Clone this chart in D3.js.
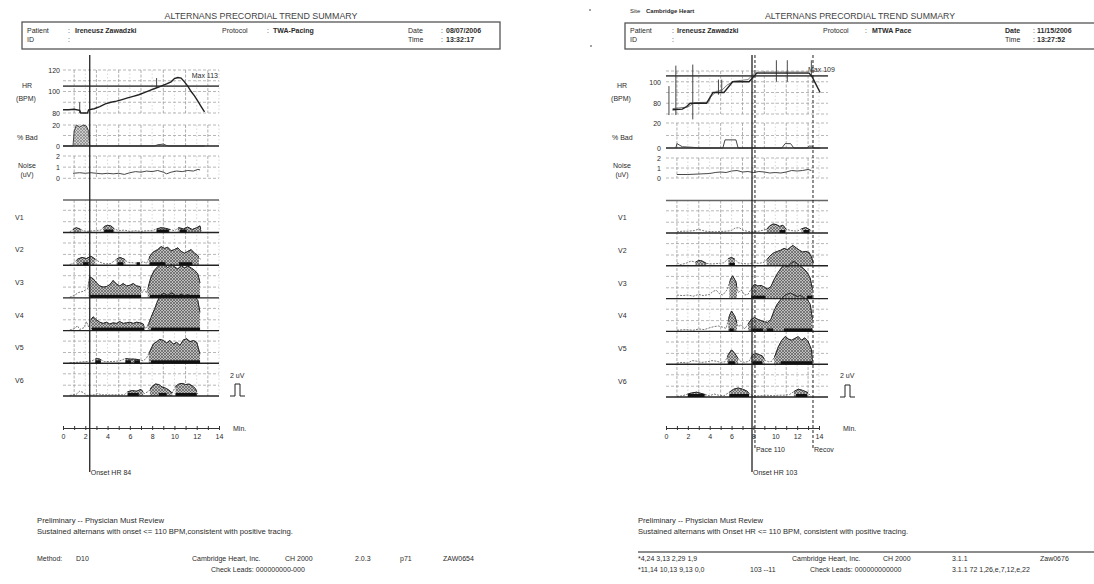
<!DOCTYPE html>
<html><head><meta charset="utf-8">
<script src="https://cdn.jsdelivr.net/npm/d3@7"></script>
<style>
body{margin:0;background:#fff;}
svg{display:block;font-family:"Liberation Sans",Arial,sans-serif;}
</style></head><body>
<svg id="c" width="1094" height="584"></svg>
<script>
// ---------------- DATA ----------------
const leadNames = ['V1','V2','V3','V4','V5','V6'];
const minuteTicks = [0,1,2,3,4,5,6,7,8,9,10,11,12,13,14];
const minuteLabels = ['0','','2','','4','','6','','8','','10','','12','','14'];

// Left report (TWA-Pacing)
const leftHR = [[0,83],[0.5,83],[1.0,83.5],[1.5,82.5],[1.6,80],[2.2,80],[2.3,83],[2.8,84],[3.3,86],[3.8,88.5],[4.3,90],[4.8,91],[5.3,92.5],[5.8,94],[6.3,95.5],[6.8,97],[7.3,99],[7.8,101],[8.3,103],[8.8,105],[9.3,107],[9.7,109],[10.0,112],[10.3,113],[10.6,112.5],[10.9,109],[11.2,105],[11.5,100],[11.8,96],[12.1,91],[12.4,86],[12.7,81]];
const leftHRSpikes = [[1.5,80,90],[8.4,104,112.5]];
const leftBad = [[0,0],[0.9,0],[1.0,14],[1.2,20],[1.5,18],[1.8,20],[2.1,19],[2.3,14],[2.4,0],[8.2,0],[8.5,1.2],[9.0,1.8],[9.3,0.5],[9.5,0],[12.7,0]];
const leftBadFill = [[1.0,2.4]];
const leftNoise = [[0.9,0.45],[1.5,0.5],[2,0.45],[2.5,0.5],[3,0.45],[3.5,0.4],[4,0.45],[4.5,0.4],[5,0.45],[5.5,0.35],[6,0.5],[6.5,0.6],[7,0.55],[7.5,0.65],[8,0.6],[8.5,0.7],[9,0.55],[9.3,0.4],[9.7,0.55],[10.2,0.65],[10.7,0.6],[11.2,0.7],[11.7,0.65],[12.1,0.8],[12.3,0.75]];

const leftV1 = [[0.6,0.1],[0.9,0.5],[1.2,0.8],[1.5,0.6],[1.8,0.3],[2.2,0.2],[2.8,0.3],[3.4,0.4],[3.7,1.0],[4.0,1.2],[4.3,1.1],[4.6,0.6],[5.0,0.3],[5.5,0.4],[6.0,0.2],[6.5,0.3],[7.0,0.2],[7.5,0.3],[8.0,0.3],[8.4,0.6],[8.8,0.8],[9.2,0.7],[9.6,0.5],[10.0,0.3],[10.4,0.8],[10.8,0.6],[11.2,0.9],[11.6,0.5],[12.0,0.8],[12.3,1.1],[12.4,0.2]];
const leftV1Fill = [[0.9,1.6],[3.6,4.6],[8.4,9.6],[10.3,12.4]];
const leftV1Bars = [[3.7,4.5],[8.4,9.5],[10.5,11.1]];
const leftV2 = [[0.6,0.1],[1.0,0.4],[1.3,1.0],[1.7,1.3],[2.1,1.1],[2.5,1.5],[2.9,1.0],[3.3,0.5],[3.8,0.2],[4.3,0.3],[4.8,1.0],[5.1,1.3],[5.5,1.0],[5.8,0.5],[6.3,0.4],[6.8,0.3],[7.2,0.6],[7.5,0.3],[7.8,1.5],[8.1,2.2],[8.5,2.6],[8.8,3.1],[9.1,2.8],[9.4,3.0],[9.7,2.4],[10.0,2.6],[10.3,2.9],[10.6,2.3],[10.9,2.0],[11.2,2.3],[11.5,2.6],[11.8,2.0],[12.1,1.6],[12.4,0.8]];
const leftV2Fill = [[1.2,2.9],[4.8,5.6],[7.7,12.2]];
const leftV2Bars = [[1.8,2.3],[4.9,5.4],[6.6,6.9],[7.8,9.2],[10.4,11.6]];
const leftV3 = [[0.6,0.1],[1.0,0.4],[1.4,0.9],[1.8,1.1],[2.2,1.5],[2.4,3.5],[2.7,3.2],[3.0,2.5],[3.3,2.0],[3.6,1.8],[3.9,1.9],[4.2,2.2],[4.5,2.9],[4.8,2.3],[5.1,2.0],[5.4,2.4],[5.7,2.0],[6.0,2.1],[6.3,2.4],[6.6,2.0],[6.9,1.9],[7.1,0.9],[7.3,1.4],[7.5,0.8],[7.7,2.2],[7.9,3.5],[8.2,4.6],[8.5,5.2],[8.8,6.0],[9.1,5.6],[9.4,5.0],[9.7,5.6],[10.0,5.2],[10.3,4.8],[10.6,5.4],[10.9,5.0],[11.2,5.3],[11.5,5.0],[11.8,4.6],[12.1,4.0],[12.3,2.5]];
const leftV3Fill = [[2.3,7.0],[7.6,12.35]];
const leftV3Bars = [[2.4,7.0],[7.8,12.3]];
const leftV4 = [[0.6,0.1],[1.0,0.3],[1.3,0.8],[1.5,0.2],[1.9,0.5],[2.1,1.5],[2.3,0.6],[2.5,1.8],[2.7,2.3],[3.0,1.8],[3.3,1.4],[3.6,1.2],[3.9,1.4],[4.2,1.1],[4.5,1.3],[4.8,1.2],[5.1,1.5],[5.4,1.2],[5.7,1.3],[6.0,1.4],[6.3,1.2],[6.6,1.4],[6.9,1.3],[7.2,1.1],[7.4,0.3],[7.7,1.2],[7.9,2.2],[8.2,3.5],[8.5,5.0],[8.8,6.0],[9.1,6.2],[9.4,5.8],[9.7,6.3],[10.0,6.0],[10.3,5.6],[10.6,6.1],[10.9,5.7],[11.2,6.0],[11.5,5.5],[11.8,5.8],[12.1,5.0],[12.3,3.0]];
const leftV4Fill = [[2.5,7.3],[7.6,12.35]];
const leftV4Bars = [[2.6,7.3],[7.9,12.3]];
const leftV5 = [[0.6,0.1],[1.5,0.2],[2.2,0.3],[2.6,0.4],[3.0,0.8],[3.3,0.7],[3.7,0.3],[4.5,0.3],[5.1,0.4],[5.6,0.8],[6.0,0.7],[6.4,0.7],[6.8,0.6],[7.2,0.4],[7.5,0.9],[7.8,2.0],[8.1,3.2],[8.4,3.6],[8.7,4.0],[9.0,3.8],[9.3,3.4],[9.6,3.8],[9.9,3.2],[10.2,3.5],[10.5,3.0],[10.8,3.9],[11.1,4.1],[11.4,3.6],[11.7,3.8],[12.0,3.5],[12.3,1.5]];
const leftV5Fill = [[2.9,3.4],[5.6,6.9],[7.7,12.35]];
const leftV5Bars = [[2.9,3.4],[5.6,6.1],[6.4,6.9],[7.9,12.3]];
const leftV6 = [[0.6,0.1],[1.2,0.3],[1.5,0.8],[1.8,0.6],[2.1,0.1],[2.8,0.2],[3.1,0.4],[3.5,0.2],[4.5,0.2],[5.5,0.2],[5.8,0.7],[6.2,0.9],[6.6,0.8],[7.0,1.1],[7.3,0.4],[7.7,0.8],[8.0,1.6],[8.3,2.0],[8.6,1.9],[8.9,1.5],[9.2,1.3],[9.5,1.0],[9.8,0.5],[10.1,1.6],[10.4,2.0],[10.7,2.1],[11.0,1.9],[11.3,2.0],[11.6,1.7],[11.9,1.2],[12.1,0.3]];
const leftV6Fill = [[5.8,7.2],[7.8,9.8],[10.1,12.0]];
const leftV6Bars = [[5.8,6.8],[8.6,9.3],[10.1,12.0]];

// Right report (MTWA Pace)
const rightHR = [[0.6,74],[1.5,74.5],[1.9,77],[2.2,80],[3.7,80],[4.3,90],[5.3,90],[6.1,100],[7.6,100],[8.3,108],[13.1,108],[13.4,104],[13.7,98],[14.1,90]];
const rightHR2 = [[0.6,75],[2.0,76.5],[2.6,80.5],[3.9,81],[4.1,86],[4.6,91],[5.1,92],[5.6,97],[6.2,100.5],[7.5,102],[8.0,107],[8.5,109],[13.0,109]];
const rightHRSpikes = [[0.27,69,96],[0.9,69,115],[2.45,65,116],[4.8,88,102],[5.1,90,102],[10.1,100,120],[11.1,100,120],[13.3,106,120]];
const rightBad = [[0.9,0],[1.0,3.5],[1.2,2.5],[1.5,1],[2.5,0.5],[3,0],[5.2,0],[5.4,6.5],[6.4,6.5],[6.6,0],[10.6,0],[10.9,3.5],[11.4,3.5],[11.7,0],[12.9,0],[13.1,1.5],[13.4,1.5],[13.5,0],[14.1,0]];
const rightBadFill = [];
const rightNoise = [[1.0,0.35],[2,0.35],[3,0.4],[4,0.45],[4.5,0.55],[5,0.6],[5.5,0.55],[6,0.7],[6.5,0.75],[7,0.6],[7.5,0.65],[8,0.55],[8.5,0.65],[9,0.6],[9.5,0.5],[10,0.55],[10.5,0.5],[11,0.6],[11.5,0.75],[12,0.7],[12.5,0.75],[13,0.85],[13.3,0.75]];

const rightV1 = [[1.0,0.2],[1.5,0.3],[2.0,0.3],[2.6,0.4],[2.9,0.6],[3.2,0.5],[3.6,0.3],[4.5,0.2],[5.5,0.3],[6.0,0.4],[6.3,0.8],[6.7,0.9],[7.0,0.5],[7.4,0.3],[7.8,0.2],[8.5,0.3],[9.2,0.6],[9.5,1.2],[9.8,1.5],[10.1,1.4],[10.4,1.1],[10.7,1.3],[11.0,0.6],[11.5,0.4],[12.0,0.3],[12.4,0.7],[12.8,0.9],[13.2,0.5],[13.4,0.2]];
const rightV1Fill = [[9.2,11.0],[12.4,13.2]];
const rightV1Bars = [[10.4,10.9],[12.6,13.1]];
const rightV2 = [[1.0,0.5],[1.3,0.2],[1.8,0.4],[2.3,0.8],[2.7,0.6],[3.0,0.9],[3.3,0.8],[3.7,0.4],[4.2,0.3],[4.8,0.4],[5.3,0.5],[5.7,1.2],[6.0,1.4],[6.3,1.1],[6.6,0.5],[7.0,0.4],[7.5,0.3],[8.0,0.5],[8.5,0.4],[9.0,0.6],[9.3,1.2],[9.6,1.8],[9.9,2.2],[10.2,2.4],[10.5,2.6],[10.8,2.9],[11.1,2.7],[11.4,3.1],[11.6,3.4],[11.9,3.0],[12.2,2.6],[12.5,2.3],[12.8,2.4],[13.1,2.2],[13.3,1.5],[13.5,0.4]];
const rightV2Fill = [[2.7,3.7],[5.7,6.3],[9.2,13.5]];
const rightV2Bars = [[5.8,6.3]];
const rightV3 = [[1.0,0.6],[1.5,0.5],[2.0,0.6],[2.5,0.4],[3.0,0.7],[3.4,0.5],[4.0,0.7],[4.3,1.2],[4.6,1.4],[4.9,0.8],[5.2,0.6],[5.6,1.5],[5.9,3.2],[6.1,3.8],[6.4,2.8],[6.6,1.0],[6.9,1.4],[7.2,0.6],[7.5,0.7],[7.8,1.6],[8.1,2.4],[8.4,2.1],[8.7,2.2],[9.0,1.9],[9.3,1.6],[9.6,2.0],[9.9,3.2],[10.2,4.2],[10.5,5.0],[10.8,5.6],[11.1,5.3],[11.4,5.8],[11.7,6.2],[12.0,5.8],[12.3,5.4],[12.6,5.0],[12.9,4.4],[13.2,3.4],[13.4,1.5]];
const rightV3Fill = [[5.8,6.5],[7.8,13.45]];
const rightV3Bars = [[7.8,9.1],[12.9,13.4]];
const rightV4 = [[1.0,0.2],[1.8,0.3],[2.5,0.2],[3.0,0.4],[3.5,0.3],[4.0,0.6],[4.4,0.8],[4.8,0.9],[5.2,0.7],[5.5,0.5],[5.8,2.6],[6.0,3.4],[6.3,2.5],[6.6,0.8],[6.9,1.1],[7.2,0.4],[7.5,1.2],[7.8,2.0],[8.1,2.3],[8.4,2.0],[8.7,1.8],[9.0,1.6],[9.3,1.5],[9.6,2.0],[9.9,3.5],[10.2,4.6],[10.5,5.3],[10.8,5.9],[11.1,6.2],[11.4,6.4],[11.7,6.1],[12.0,5.8],[12.3,6.0],[12.6,5.6],[12.9,5.4],[13.2,4.5],[13.4,2.0]];
const rightV4Fill = [[5.7,6.5],[7.5,13.45]];
const rightV4Bars = [[5.8,6.2],[7.8,8.9],[9.2,9.8],[10.8,13.4]];
const rightV5 = [[1.0,0.2],[1.5,0.3],[2.0,0.2],[2.4,0.6],[2.8,0.5],[3.2,0.3],[3.8,0.4],[4.2,0.6],[4.6,0.5],[5.0,0.3],[5.4,0.4],[5.7,1.6],[6.0,2.4],[6.3,1.8],[6.5,1.2],[6.8,0.5],[7.2,0.3],[7.6,0.5],[7.9,1.5],[8.2,1.8],[8.5,1.6],[8.8,1.4],[9.1,0.6],[9.4,0.4],[9.7,0.5],[10.0,1.5],[10.3,3.0],[10.6,4.0],[10.9,4.6],[11.2,4.2],[11.5,4.0],[11.8,4.3],[12.1,4.6],[12.4,4.0],[12.7,4.4],[13.0,3.8],[13.3,2.5],[13.4,0.5]];
const rightV5Fill = [[5.6,6.6],[7.8,9.0],[9.9,13.45]];
const rightV5Bars = [[5.7,6.3],[7.9,8.8],[10.5,13.4]];
const rightV6 = [[1.0,0.1],[1.5,0.2],[2.0,0.5],[2.4,0.7],[2.8,0.8],[3.2,0.6],[3.6,0.4],[4.0,0.2],[4.4,0.5],[4.8,0.3],[5.3,0.2],[5.8,0.8],[6.2,1.3],[6.6,1.5],[7.0,1.3],[7.4,1.0],[7.7,0.4],[8.0,0.2],[8.6,0.2],[9.2,0.3],[9.8,0.2],[10.3,0.3],[10.8,0.3],[11.3,0.4],[11.7,0.9],[12.1,1.3],[12.5,1.1],[12.9,0.8],[13.2,0.3]];
const rightV6Fill = [[2.0,3.6],[5.8,7.6],[11.7,13.0]];
const rightV6Bars = [[2.0,3.5],[5.8,7.6],[11.9,12.9]];

// ---------------- DRAWING ----------------
const svg = d3.select('#c');
const defs = svg.append('defs');
const pat = defs.append('pattern').attr('id','hatch').attr('patternUnits','userSpaceOnUse').attr('width',3).attr('height',3);
pat.append('rect').attr('width',3).attr('height',3).attr('fill','#bebebe');
pat.append('path').attr('d','M0,0L3,3M3,0L0,3').attr('stroke','#4a4a4a').attr('stroke-width',0.6);

const INK = '#2b2b2b';
function txt(x,y,s,o={}){
  const t = svg.append('text').attr('x',x).attr('y',y).text(s)
    .attr('font-size',o.size||7).attr('fill',o.fill||INK);
  if(o.bold) t.attr('font-weight','bold');
  if(o.anchor) t.attr('text-anchor',o.anchor);
  if(o.len) t.attr('textLength',o.len).attr('lengthAdjust','spacingAndGlyphs');
  return t;
}
let clipId = 0;
const fmtInt = d3.format('d');

function drawChart(c){
  const g = svg.append('g');
  const x = d3.scaleLinear().domain([0,14]).range(c.xr);
  const xL = c.xr[0], xR = c.xEnd;
  const tMax = x.invert(xR);
  const mins = d3.range(1, Math.floor(tMax)+1);
  const yHR = d3.scaleLinear().domain(c.hrDomain).range(c.hrRange);
  const yBad = d3.scaleLinear().domain([0,20]).range(c.badRange);
  const yNoise = d3.scaleLinear().domain([0,2]).range(c.noiseRange);
  const bases = leadNames.map((n,i)=>c.base0 + i*c.step);
  const yLead = i => d3.scaleLinear().domain([0,5.5]).range([bases[i], bases[i]-33]);
  const leadTop = bases[0]-32.5;
  const styleAxis = a=>{a.select('.domain').remove(); a.attr('font-family',null).attr('font-size',7).selectAll('text').attr('fill',INK);};

  function vgrid(y0,y1){
    g.append('g').selectAll('line').data(mins).join('line')
      .attr('x1',d=>x(d)).attr('x2',d=>x(d)).attr('y1',y0).attr('y2',y1)
      .attr('stroke',d=>d%2?'#8c8c8c':'#c8c8c8').attr('stroke-width',0.7)
      .attr('stroke-dasharray',d=>d%2?'3,1.5':'1.5,2');
  }
  function hgrid(ys){
    g.append('g').selectAll('line').data(ys).join('line')
      .attr('x1',xL).attr('x2',xR).attr('y1',d=>d).attr('y2',d=>d)
      .attr('stroke','#9a9a9a').attr('stroke-width',0.7).attr('stroke-dasharray','3,2');
  }
  // grids
  vgrid(yHR(c.hrDomain[1]), yHR(c.hrDomain[0]));
  hgrid(d3.range(c.hrDomain[0], c.hrDomain[1]+1, 10).map(yHR));
  vgrid(yBad(20), yBad(0));
  hgrid([yBad(20), yBad(10)]);
  vgrid(yNoise(2), yNoise(0));
  hgrid([yNoise(2), yNoise(1), yNoise(0)]);
  vgrid(leadTop, bases[5]);
  bases.forEach((b,i)=>hgrid([yLead(i)(1.8), yLead(i)(3.7)]));

  // HR panel
  g.append('line').attr('x1',xL).attr('x2',xR).attr('y1',yHR(c.hrThreshold)).attr('y2',yHR(c.hrThreshold))
    .attr('stroke','#555').attr('stroke-width',1.6);
  const lineHR = d3.line().x(d=>x(d[0])).y(d=>yHR(d[1]));
  g.append('g').selectAll('line').data(c.spikes).join('line')
    .attr('x1',d=>x(d[0])).attr('x2',d=>x(d[0])).attr('y1',d=>yHR(d[1])).attr('y2',d=>yHR(d[2]))
    .attr('stroke','#333').attr('stroke-width',0.9);
  if(c.hr2) g.append('path').datum(c.hr2).attr('d',lineHR).attr('fill','none').attr('stroke','#555').attr('stroke-width',0.8);
  g.append('path').datum(c.hr).attr('d',lineHR).attr('fill','none').attr('stroke','#222').attr('stroke-width',1.4);
  g.append('g').attr('transform',`translate(${c.axX},0)`)
    .call(d3.axisLeft(yHR).tickValues(c.hrTicks).tickFormat(fmtInt).tickSize(0).tickPadding(0)).call(styleAxis);

  // % Bad
  const areaBad = d3.area().x(d=>x(d[0])).y0(yBad(0)).y1(d=>yBad(d[1]));
  if(c.badFill.length){
    const id = 'clip'+(clipId++);
    defs.append('clipPath').attr('id',id).selectAll('rect').data(c.badFill).join('rect')
      .attr('x',d=>x(d[0])).attr('width',d=>x(d[1])-x(d[0])).attr('y',yBad(25)).attr('height',yBad(0)-yBad(25));
    g.append('path').datum(c.bad).attr('d',areaBad).attr('fill','url(#hatch)').attr('opacity',0.75).attr('clip-path',`url(#${id})`);
  }
  g.append('line').attr('x1',xL).attr('x2',xR).attr('y1',yBad(0)).attr('y2',yBad(0)).attr('stroke','#222').attr('stroke-width',1.5);
  g.append('path').datum(c.bad).attr('d',d3.line().x(d=>x(d[0])).y(d=>yBad(d[1]))).attr('fill','none').attr('stroke','#333').attr('stroke-width',0.9);
  g.append('g').attr('transform',`translate(${c.axX},0)`)
    .call(d3.axisLeft(yBad).tickValues([0,20]).tickFormat(fmtInt).tickSize(0).tickPadding(0)).call(styleAxis);

  // Noise
  g.append('path').datum(c.noise).attr('d',d3.line().x(d=>x(d[0])).y(d=>yNoise(d[1]))).attr('fill','none').attr('stroke','#333').attr('stroke-width',0.9);
  g.append('g').attr('transform',`translate(${c.axX},0)`)
    .call(d3.axisLeft(yNoise).tickValues([0,1,2]).tickFormat(fmtInt).tickSize(0).tickPadding(0)).call(styleAxis);

  // Leads
  g.append('line').attr('x1',xL).attr('x2',xR).attr('y1',leadTop).attr('y2',leadTop).attr('stroke','#666').attr('stroke-width',1.3);
  c.leads.forEach((ld,i)=>{
    const y = yLead(i);
    const line = d3.line().x(d=>x(d[0])).y(d=>y(d[1]));
    const area = d3.area().x(d=>x(d[0])).y0(bases[i]).y1(d=>y(d[1]));
    g.append('path').datum(ld.pts).attr('d',line).attr('fill','none').attr('stroke','#555').attr('stroke-width',0.8).attr('stroke-dasharray','2,1.2');
    const id = 'clip'+(clipId++);
    defs.append('clipPath').attr('id',id).selectAll('rect').data(ld.fill).join('rect')
      .attr('x',d=>x(d[0])).attr('width',d=>x(d[1])-x(d[0])).attr('y',bases[i]-60).attr('height',61);
    const cg = g.append('g').attr('clip-path',`url(#${id})`);
    cg.append('path').datum(ld.pts).attr('d',area).attr('fill','url(#hatch)');
    cg.append('path').datum(ld.pts).attr('d',line).attr('fill','none').attr('stroke','#222').attr('stroke-width',1);
  });
  c.leads.forEach((ld,i)=>{
    g.append('line').attr('x1',xL).attr('x2',xR).attr('y1',bases[i]).attr('y2',bases[i]).attr('stroke','#222').attr('stroke-width',1.4);
    g.append('g').selectAll('rect').data(ld.bars).join('rect')
      .attr('x',d=>x(d[0])).attr('width',d=>x(d[1])-x(d[0])).attr('y',bases[i]-3).attr('height',3).attr('fill','#111');
    txt(c.leadLabelX, bases[i]-13, leadNames[i]);
  });

  // Time axis
  g.append('g').attr('transform',`translate(0,${c.axisY})`)
    .call(d3.axisBottom(x).tickValues(minuteTicks).tickFormat((d,i)=>minuteLabels[i]).tickSize(-3).tickSizeOuter(0).tickPadding(6))
    .call(a=>{a.attr('font-family',null).attr('font-size',7); a.selectAll('text').attr('fill',INK);
      a.select('.domain').attr('stroke','#333').attr('stroke-width',1);
      a.selectAll('.tick line').attr('stroke','#333').attr('y2',-2).attr('y1',2);});
  txt(x(14)+c.minDx, c.axisY+3, 'Min.');

  // event lines
  c.events.forEach(e=>{
    g.append('line').attr('x1',x(e.t)).attr('x2',x(e.t)).attr('y1',55).attr('y2',e.y2)
      .attr('stroke','#222').attr('stroke-width',e.dash?1:1.3).attr('stroke-dasharray',e.dash?'3,2':null);
    txt(x(e.t)+1, e.y2+3, e.label);
  });

  // labels
  txt(c.yLabX, 87.5, 'HR', {anchor:'middle'});
  txt(c.yLabX-1, 100.5, '(BPM)', {anchor:'middle'});
  txt(c.yLabX-10, 139.5, '% Bad');
  txt(c.yLabX, 167.5, 'Noise', {anchor:'middle'});
  txt(c.yLabX, 176.5, '(uV)', {anchor:'middle'});
  txt(c.maxX, c.maxY, c.maxLabel, {anchor:c.maxAnchor});

  // 2 uV calibration pulse
  const p0 = c.pulseX, pb = bases[5];
  txt(p0, 378, '2 uV');
  g.append('path').attr('d',`M${p0},${pb}H${p0+5}V${pb-12}H${p0+10}V${pb}H${p0+15}`)
    .attr('fill','none').attr('stroke','#222').attr('stroke-width',1);
}

drawChart({
  xr:[63,219], xEnd:219, axX:60, yLabX:27, leadLabelX:15,
  hrDomain:[80,120], hrRange:[113,70], hrTicks:[80,100,120], hrThreshold:105,
  hr:leftHR, hr2:null, spikes:leftHRSpikes,
  bad:leftBad, badFill:leftBadFill, badRange:[146,125],
  noise:leftNoise, noiseRange:[178.3,156],
  base0:232.5, step:32.7, axisY:428, minDx:14, pulseX:230,
  maxLabel:'Max 113', maxX:218, maxY:77.5, maxAnchor:'end',
  leads:[{pts:leftV1,fill:leftV1Fill,bars:leftV1Bars},{pts:leftV2,fill:leftV2Fill,bars:leftV2Bars},{pts:leftV3,fill:leftV3Fill,bars:leftV3Bars},{pts:leftV4,fill:leftV4Fill,bars:leftV4Bars},{pts:leftV5,fill:leftV5Fill,bars:leftV5Bars},{pts:leftV6,fill:leftV6Fill,bars:leftV6Bars}],
  events:[{t:2.4,y2:472,label:'Onset HR 84'}]
});
drawChart({
  xr:[666,819], xEnd:828, axX:661, yLabX:622, leadLabelX:618,
  hrDomain:[70,110], hrRange:[114,71], hrTicks:[80,100], hrThreshold:105.5,
  hr:rightHR, hr2:rightHR2, spikes:rightHRSpikes,
  bad:rightBad, badFill:rightBadFill, badRange:[148,123],
  noise:rightNoise, noiseRange:[178,158],
  base0:233, step:32.8, axisY:428, minDx:24, pulseX:840,
  maxLabel:'Max 109', maxX:808, maxY:71.5, maxAnchor:'start',
  leads:[{pts:rightV1,fill:rightV1Fill,bars:rightV1Bars},{pts:rightV2,fill:rightV2Fill,bars:rightV2Bars},{pts:rightV3,fill:rightV3Fill,bars:rightV3Bars},{pts:rightV4,fill:rightV4Fill,bars:rightV4Bars},{pts:rightV5,fill:rightV5Fill,bars:rightV5Bars},{pts:rightV6,fill:rightV6Fill,bars:rightV6Bars}],
  events:[{t:7.87,y2:472,label:'Onset HR 103'},{t:8.14,y2:449,dash:true,label:'Pace 110'},{t:13.45,y2:449,dash:true,label:'Recov'}]
});

// ---------------- HEADERS / FOOTERS ----------------
// left
txt(261,19,'ALTERNANS PRECORDIAL TREND SUMMARY',{size:9,anchor:'middle',len:193,fill:'#444'});
svg.append('rect').attr('x',22).attr('y',22).attr('width',478).attr('height',27).attr('fill','none').attr('stroke','#555').attr('stroke-width',1.3);
txt(27,32.5,'Patient'); txt(68,32.5,':'); txt(75,32.5,'Ireneusz Zawadzki',{bold:true});
txt(27,42,'ID'); txt(68,42,':');
txt(222,32.5,'Protocol'); txt(267,32.5,':'); txt(273,32.5,'TWA-Pacing',{bold:true});
txt(408,32.5,'Date'); txt(441,32.5,':'); txt(446,32.5,'08/07/2006',{bold:true});
txt(408,42,'Time'); txt(441,42,':'); txt(446,42,'13:32:17',{bold:true});
txt(37,522.5,'Preliminary -- Physician Must Review',{len:127});
txt(37,534,'Sustained alternans with onset <= 110 BPM,consistent with positive tracing.',{len:256});
txt(37,561,'Method:'); txt(76,561,'D10');
txt(192,561,'Cambridge Heart, Inc.'); txt(285,561,'CH 2000');
txt(355,561,'2.0.3'); txt(400,561,'p71'); txt(443,561,'ZAW0654');
txt(211,572,'Check Leads: 000000000-000');

// right
svg.append('circle').attr('cx',590).attr('cy',10).attr('r',0.9).attr('fill','#777');
svg.append('circle').attr('cx',591).attr('cy',46).attr('r',0.9).attr('fill','#777');
txt(630,13,'Site',{size:6}); txt(646,13,'Cambridge Heart',{size:6,bold:true});
txt(860,19,'ALTERNANS PRECORDIAL TREND SUMMARY',{size:9,anchor:'middle',len:190,fill:'#444'});
svg.append('rect').attr('x',625).attr('y',23).attr('width',480).attr('height',26).attr('fill','none').attr('stroke','#555').attr('stroke-width',1.3);
txt(630,32.5,'Patient'); txt(672,32.5,':'); txt(677,32.5,'Ireneusz Zawadzki',{bold:true});
txt(630,42,'ID'); txt(672,42,':');
txt(823,32.5,'Protocol'); txt(865,32.5,':'); txt(872,32.5,'MTWA Pace',{bold:true});
txt(1005,32.5,'Date',{bold:true}); txt(1033,32.5,':'); txt(1037,32.5,'11/15/2006',{bold:true});
txt(1005,42,'Time'); txt(1033,42,':'); txt(1037,42,'13:27:52',{bold:true});
txt(638,522.5,'Preliminary -- Physician Must Review',{len:125});
txt(638,534,'Sustained alternans with Onset HR <= 110 BPM, consistent with positive tracing.',{len:270});
svg.append('line').attr('x1',638).attr('x2',1094).attr('y1',552).attr('y2',552).attr('stroke','#666').attr('stroke-width',1.4);
txt(638,561,'*4,24 3,13 2,29 1,9'); txt(792,561,'Cambridge Heart, Inc.'); txt(883,561,'CH 2000');
txt(952,561,'3.1.1'); txt(1040,561,'Zaw0676');
txt(638,572,'*11,14 10,13 9,13 0,0'); txt(750,572,'103 --11'); txt(810,572,'Check Leads: 000000000000');
txt(952,572,'3.1.1 72 1,26,e,7,12,e,22');
</script>
</body></html>
